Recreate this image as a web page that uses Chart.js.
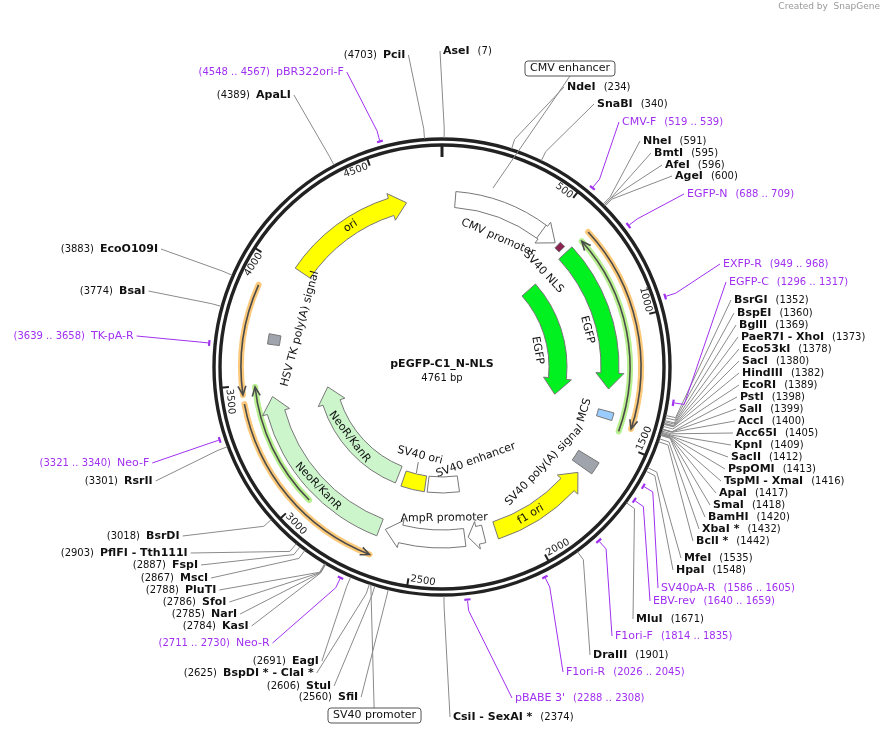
<!DOCTYPE html>
<html><head><meta charset="utf-8">
<script src="https://cdn.jsdelivr.net/npm/chart.js@4.4.0/dist/chart.umd.min.js"></script>
<style>body{margin:0;background:#fff}canvas{display:block}</style>
</head><body>
<canvas id="c" width="885" height="733"></canvas>
<script>
const TOTAL=4761;
const TITLE="pEGFP-C1_N-NLS";
// restriction enzymes
const enzymeNames=["AseI","PciI","NdeI","SnaBI","NheI","BmtI","AfeI","AgeI","BsrGI","BspEI","BglII","PaeR7I - XhoI","Eco53kI","SacI","HindIII","EcoRI","PstI","SalI","AccI","Acc65I","KpnI","SacII","PspOMI","TspMI - XmaI","ApaI","SmaI","BamHI","XbaI *","BclI *","MfeI","HpaI","MluI","DraIII","CsiI - SexAI *","SfiI","StuI","BspDI * - ClaI *","EagI","KasI","NarI","SfoI","PluTI","MscI","FspI","PflFI - Tth111I","BsrDI","RsrII","BsaI","EcoO109I","ApaLI"];
const enzymePos=[7,4703,234,340,591,595,596,600,1352,1360,1369,1373,1378,1380,1382,1389,1398,1399,1400,1405,1409,1412,1413,1416,1417,1418,1420,1432,1442,1535,1548,1671,1901,2374,2560,2606,2625,2691,2784,2785,2786,2788,2867,2887,2903,3018,3301,3774,3883,4389];
// primers
const primerNames=["pBR322ori-F","CMV-F","EGFP-N","EXFP-R","EGFP-C","TK-pA-R","Neo-F","Neo-R","pBABE 3'","F1ori-R","F1ori-F","EBV-rev","SV40pA-R"];
const primerStart=[4548,519,688,949,1296,3639,3321,2711,2288,2026,1814,1640,1586];
const primerEnd=[4567,539,709,968,1317,3658,3340,2730,2308,2045,1835,1659,1605];
// features
const featureNames=["CMV promoter","SV40 NLS","EGFP","MCS","SV40 poly(A) signal","f1 ori","","AmpR promoter","NeoR/KanR","HSV TK poly(A) signal","ori","EGFP","NeoR/KanR","SV40 ori","SV40 enhancer"];
const featureStart=[60,575,625,1388,1605,1690,2195,2280,2660,3670,4020,640,2670,2487,2275];
const featureEnd=[560,602,1290,1422,1660,2140,2265,2635,3440,3715,4600,1370,3440,2632,2470];
const featureDir=[1,0,1,0,0,-1,1,1,1,0,1,1,1,0,0];
const featureColor=["#ffffff","#8b2252","#00f020","#99ccff","#a0a4ac","#ffff00","#ffffff","#ffffff","#ccf5cc","#a0a4ac","#ffff00","#00f020","#ccf5cc","#ffff00","#ffffff"];
// thin translation/annotation arrows
const traceStart=[635,625,2975,2660,3465];
const traceEnd=[1455,1430,3490,3430,3890];
const traceDir=[-1,1,1,-1,-1];
const traceColor=["#b8f090","#fcc97a","#b8f090","#fcc97a","#fcc97a"];
const tickValues=[500,1000,1500,2000,2500,3000,3500,4000,4500];

// ---- layout (not data) ----
const CX=442,CY=367,R_OUT=228,R_IN=222;
const enzSide=["r","l","r","r","r","r","r","r","r","r","r","r","r","r","r","r","r","r","r","r","r","r","r","r","r","r","r","r","r","r","r","r","r","r","l","l","l","l","l","l","l","l","l","l","l","l","l","l","l","l"];
const enzX=[443,383,567,597,643,654,665,675,734,737,739,741,742,742,742,742,740,739,738,736,734,731,728,724,719,713,708,702,696,684,676,636,593,453,338,306,223,292,222,211,202,185,180,172,100,146,124,119,100,256];
const enzY=[51,55,87,104,141,153,165,176,300,313,325,337,349,361,373,385,397,409,421,433,445,457,469,481,493,505,517,529,541,558,570,619,655,717,697,686,673,661,626,614,602,590,578,565,553,536,481,291,249,95];
const priSide=["l","r","r","r","r","l","l","l","r","r","r","r","r"];
const priX=[276,622,687,723,729,91,117,236,515,566,615,653,661];
const priY=[72,122,194,264,282,336,463,643,698,672,636,601,588];
const featR=[168,168,168,170,172,172,172,172,172,170,168,116,116,118,118];
const featW=[16,8,18,16,24,18,18,18,18,12,18,18,18,16,16];
const featLblBp=[310,620,1000,1413,1770,1970,0,2370,2990,3770,4325,1060,3080,2566,2116];
const featLblR=[141,139,150,149,142,172,0,151,172,147,168,97,116,91,99];
const traceR=[188,199,188,201,201];

const mapPlugin={id:'map',afterDatasetsDraw(chart){
 const ctx=chart.ctx, xs=chart.scales.x, ys=chart.scales.y;
 const X=v=>xs.getPixelForValue(v), Y=v=>ys.getPixelForValue(v);
 const k=X(1)-X(0);
 const ang=bp=>bp/TOTAL*2*Math.PI;
 const P=(bp,r)=>{const a=ang(bp);return [X(CX+r*Math.sin(a)),Y(CY-r*Math.cos(a))];};
 const PA=(a,r)=>[X(CX+r*Math.sin(a)),Y(CY-r*Math.cos(a))];
 const cx=X(CX),cy=Y(CY);
 const F='"DejaVu Sans", sans-serif';
 ctx.save();
 // ring
 ctx.strokeStyle="#222";ctx.lineWidth=3.4;
 [R_OUT,R_IN].forEach(r=>{ctx.beginPath();ctx.arc(cx,cy,r*k,0,2*Math.PI);ctx.stroke();});
 // zero tick
 ctx.lineWidth=3;ctx.beginPath();let p=PA(0,R_IN);ctx.moveTo(...p);p=PA(0,R_IN-12);ctx.lineTo(...p);ctx.stroke();
 // ticks
 ctx.font='10px '+F;ctx.fillStyle="#222";ctx.lineWidth=2;
 tickValues.forEach(t=>{
  const a=ang(t);ctx.beginPath();ctx.moveTo(...PA(a,R_IN));ctx.lineTo(...PA(a,R_IN-8));ctx.stroke();
  const deg=a*180/Math.PI;const flip=deg>100&&deg<280;
  const q=PA(a,R_IN-2);ctx.save();ctx.translate(...q);
  ctx.rotate(flip?a-Math.PI:a);ctx.textAlign=flip?'left':'right';ctx.textBaseline=flip?'bottom':'top';
  ctx.fillText(String(t),flip?2:-2,flip?-1:1);ctx.restore();
 });
 // traces
 traceStart.forEach((s,i)=>{
  const r=traceR[i]*k,a0=ang(s)-Math.PI/2,a1=ang(traceEnd[i])-Math.PI/2;
  ctx.strokeStyle=traceColor[i];ctx.lineWidth=6;ctx.lineCap='round';
  ctx.beginPath();ctx.arc(cx,cy,r,a0,a1);ctx.stroke();
  ctx.strokeStyle="#4a4a4a";ctx.lineWidth=1.6;ctx.lineCap='butt';
  ctx.beginPath();ctx.arc(cx,cy,r,a0,a1);ctx.stroke();
  const tipB=traceDir[i]>0?traceEnd[i]:s;const ta=ang(tipB);const h=9/traceR[i]*traceDir[i];
  ctx.beginPath();ctx.moveTo(...PA(ta-h,traceR[i]+4));ctx.lineTo(...PA(ta,traceR[i]));ctx.lineTo(...PA(ta-h,traceR[i]-4));ctx.stroke();
 });
 // features
 featureStart.forEach((s,i)=>{
  const r=featR[i],w=featW[i],a0=ang(s),a1=ang(featureEnd[i]);
  const d=featureDir[i];let h=Math.min(16/r,(a1-a0)*0.6);
  ctx.beginPath();
  if(d===1){
   ctx.arc(cx,cy,(r+w/2)*k,a0-Math.PI/2,a1-h-Math.PI/2);
   ctx.lineTo(...PA(a1-h,r+w/2+5));ctx.lineTo(...PA(a1,r));ctx.lineTo(...PA(a1-h,r-w/2-5));ctx.lineTo(...PA(a1-h,r-w/2));
   ctx.arc(cx,cy,(r-w/2)*k,a1-h-Math.PI/2,a0-Math.PI/2,true);
  }else if(d===-1){
   ctx.arc(cx,cy,(r+w/2)*k,a0+h-Math.PI/2,a1-Math.PI/2);
   ctx.arc(cx,cy,(r-w/2)*k,a1-Math.PI/2,a0+h-Math.PI/2,true);
   ctx.lineTo(...PA(a0+h,r-w/2-5));ctx.lineTo(...PA(a0,r));ctx.lineTo(...PA(a0+h,r+w/2+5));ctx.lineTo(...PA(a0+h,r+w/2));
  }else{
   ctx.arc(cx,cy,(r+w/2)*k,a0-Math.PI/2,a1-Math.PI/2);
   ctx.arc(cx,cy,(r-w/2)*k,a1-Math.PI/2,a0-Math.PI/2,true);
  }
  ctx.closePath();ctx.fillStyle=featureColor[i];ctx.fill();
  ctx.strokeStyle="#777";ctx.lineWidth=1;ctx.stroke();
 });
 // CMV enhancer divider
 ctx.strokeStyle="#777";ctx.beginPath();ctx.moveTo(...P(480,160));ctx.lineTo(...P(480,176));ctx.stroke();
 // feature labels
 ctx.fillStyle="#111";ctx.font='11px '+F;ctx.textAlign='center';ctx.textBaseline='middle';
 featureNames.forEach((n,i)=>{
  if(!n)return;const a=ang(featLblBp[i]);const deg=a*180/Math.PI;const flip=deg>100&&deg<250;
  ctx.save();ctx.translate(...PA(a,featLblR[i]));ctx.rotate(flip?a-Math.PI:a);ctx.fillText(n,0,0);ctx.restore();
 });
 // SV40 ori leader
 ctx.strokeStyle="#777";ctx.beginPath();ctx.moveTo(...P(2560,109));ctx.lineTo(...P(2566,98));ctx.stroke();
 // center
 ctx.font='bold 11px '+F;ctx.fillText(TITLE,cx,Y(CY-3));
 ctx.font='10px '+F;ctx.fillText("4761 bp",cx,Y(CY+11));
 // enzymes
 const label=(name,extra,side,nx,ny,bp,rStart,col,nameFont,extraFont,lcol)=>{
  ctx.font=nameFont;const nw=ctx.measureText(name).width;
  const ax=side==='r'?X(nx)-3:X(nx)+nw+3,ay=Y(ny);
  ctx.strokeStyle=lcol;ctx.lineWidth=1;ctx.beginPath();
  ctx.moveTo(...P(bp,rStart));const m=P(bp,rStart+10);ctx.lineTo(...m);ctx.lineTo(ax,ay);ctx.stroke();
  ctx.textBaseline='middle';ctx.fillStyle=col;ctx.textAlign='left';ctx.fillText(name,X(nx),ay);
  ctx.font=extraFont;
  if(side==='r'){ctx.fillText(extra,X(nx)+nw+8,ay);}else{ctx.textAlign='right';ctx.fillText(extra,X(nx)-6,ay);}
 };
 enzymeNames.forEach((n,i)=>label(n,"("+enzymePos[i]+")",enzSide[i],enzX[i],enzY[i],enzymePos[i],R_OUT+1,"#111",'bold 11px '+F,'10px '+F,"#8a8a8a"));
 // primers
 primerNames.forEach((n,i)=>{
  const a0=ang(primerStart[i]),a1=ang(primerEnd[i]);
  ctx.strokeStyle="#a030f0";ctx.lineWidth=2.2;ctx.beginPath();ctx.arc(cx,cy,234*k,a0-Math.PI/2,a1-Math.PI/2);ctx.stroke();
  const mid=(primerStart[i]+primerEnd[i])/2;
  label(n,"("+primerStart[i]+" .. "+primerEnd[i]+")",priSide[i],priX[i],priY[i],mid,235,"#a030f0",'11px '+F,'10px '+F,"#a030f0");
 });
 // boxed feature labels
 const boxLbl=(txt,bx,by,bp,r)=>{
  ctx.font='11px '+F;const w=ctx.measureText(txt).width+10;
  ctx.strokeStyle="#8a8a8a";ctx.lineWidth=1;ctx.beginPath();ctx.moveTo(...P(bp,r));ctx.lineTo(X(bx+w/2),Y(by+8));ctx.stroke();
  ctx.fillStyle="#fff";ctx.strokeStyle="#555";
  ctx.beginPath();ctx.roundRect(X(bx),Y(by-7),w,15,3);ctx.fill();ctx.stroke();
  ctx.fillStyle="#111";ctx.textAlign='left';ctx.textBaseline='middle';ctx.fillText(txt,X(bx+5),Y(by+0.5));
 };
 boxLbl("CMV enhancer",525,68,210,186);
 boxLbl("SV40 promoter",328,715,2620,R_OUT+1);
 ctx.restore();
 // credit
 ctx.font='9px '+F;ctx.fillStyle="#999";ctx.textAlign='right';ctx.fillText("Created by  SnapGene",X(880),Y(9));
}};
new Chart(document.getElementById('c'),{type:'scatter',data:{datasets:[{data:[]}]},
 options:{responsive:false,animation:false,layout:{padding:0},
  plugins:{legend:{display:false},tooltip:{enabled:false}},
  scales:{x:{type:'linear',min:0,max:885,display:false},y:{type:'linear',min:0,max:733,reverse:true,display:false}}},
 plugins:[mapPlugin]});
</script></body></html>
